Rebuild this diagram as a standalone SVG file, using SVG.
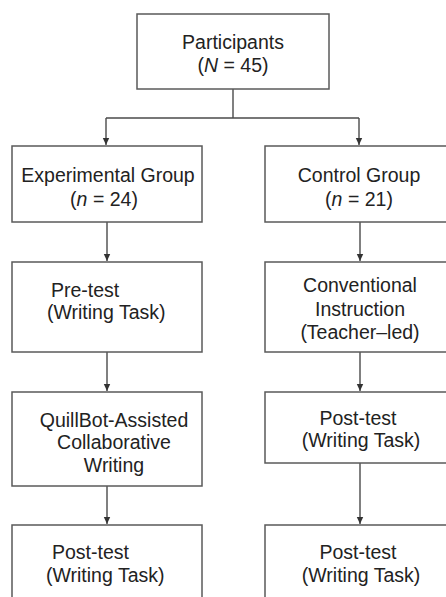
<svg xmlns="http://www.w3.org/2000/svg" width="446" height="597" viewBox="0 0 446 597">
<style>
.box{fill:#fff;stroke:#5a5a5a;stroke-width:1.5}
.t{font-family:"Liberation Sans",Arial,sans-serif;font-size:19.5px;fill:#222}
.c{text-anchor:middle}
.line{fill:none;stroke:#4a4a4a;stroke-width:1.4}
</style>
<defs>
<marker id="ah" markerWidth="8" markerHeight="8" refX="7" refY="4" orient="auto" markerUnits="userSpaceOnUse">
<path d="M0,0.8 L7,4 L0,7.2 Z" fill="#333"/>
</marker>
</defs>
<rect width="446" height="597" fill="#fff"/>
<g id="connectors">
<path class="line" d="M233,89 V118"/>
<path class="line" d="M106,118 H359"/>
<path class="line" d="M106,118 V145" marker-end="url(#ah)"/>
<path class="line" d="M359,118 V145" marker-end="url(#ah)"/>
<path class="line" d="M107,222 V261" marker-end="url(#ah)"/>
<path class="line" d="M360,222 V261" marker-end="url(#ah)"/>
<path class="line" d="M107,352 V391" marker-end="url(#ah)"/>
<path class="line" d="M360,352 V391" marker-end="url(#ah)"/>
<path class="line" d="M107,486 V524" marker-end="url(#ah)"/>
<path class="line" d="M360,463 V524" marker-end="url(#ah)"/>
</g>
<g id="participants">
<rect class="box" x="137" y="14" width="192" height="75"/>
<text class="t c" x="233" y="49">Participants</text>
<text class="t c" x="233" y="72">(<tspan font-style="italic">N</tspan> = 45)</text>
</g>
<g id="experimental">
<rect class="box" x="12" y="146" width="190" height="76"/>
<text class="t c" x="108" y="182">Experimental Group</text>
<text class="t c" x="104" y="206">(<tspan font-style="italic">n</tspan> = 24)</text>
</g>
<g id="control">
<rect class="box" x="265" y="146" width="190" height="76"/>
<text class="t c" x="359" y="182">Control Group</text>
<text class="t c" x="359" y="206">(<tspan font-style="italic">n</tspan> = 21)</text>
</g>
<g id="pretest">
<rect class="box" x="12" y="262" width="190" height="90"/>
<text class="t" x="51" y="297">Pre-test</text>
<text class="t" x="47" y="319">(Writing Task)</text>
</g>
<g id="conventional">
<rect class="box" x="265" y="262" width="190" height="90"/>
<text class="t c" x="360" y="292">Conventional</text>
<text class="t c" x="360" y="316">Instruction</text>
<text class="t c" x="360" y="339">(Teacher–led)</text>
</g>
<g id="quillbot">
<rect class="box" x="12" y="392" width="190" height="94"/>
<text class="t c" x="114" y="427">QuillBot-Assisted</text>
<text class="t c" x="114" y="449">Collaborative</text>
<text class="t c" x="114" y="472">Writing</text>
</g>
<g id="posttest-control-1">
<rect class="box" x="265" y="392" width="190" height="71"/>
<text class="t c" x="358" y="425">Post-test</text>
<text class="t c" x="361" y="447">(Writing Task)</text>
</g>
<g id="posttest-exp">
<rect class="box" x="12" y="525" width="190" height="90"/>
<text class="t" x="52" y="559">Post-test</text>
<text class="t" x="46" y="582">(Writing Task)</text>
</g>
<g id="posttest-control-2">
<rect class="box" x="265" y="525" width="190" height="90"/>
<text class="t c" x="358" y="559">Post-test</text>
<text class="t c" x="361" y="582">(Writing Task)</text>
</g>
</svg>
